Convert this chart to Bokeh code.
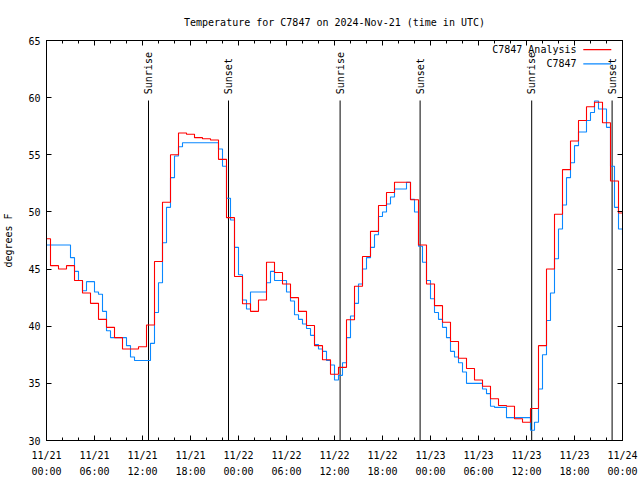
import math
import pandas as pd
from bokeh.plotting import figure
from bokeh.models import (Range1d, FixedTicker, DatetimeTickFormatter, LinearAxis,
                          DatetimeAxis, Label, BoxAnnotation, ColumnDataSource)
from bokeh.core.properties import value
from bokeh.embed import file_html
from bokeh.resources import INLINE

START = pd.Timestamp("2024-11-21 00:00")

# Hourly analysis values (valid at each hour from 11/21 00:00)
analysis_hours = list(range(0, 73))
analysis_temps = [
    47.65, 45.3, 45.0, 45.3, 44.0, 42.9, 42.0, 40.6, 39.9, 39.0,
    38.0, 38.0, 38.2, 40.1, 45.66, 50.85, 55.0, 56.9, 56.8, 56.5,
    56.4, 56.3, 54.6, 49.5, 44.35, 41.96, 41.3, 42.3, 45.6, 44.7,
    43.7, 42.5, 41.3, 40.06, 38.3, 37.06, 35.8, 36.4, 40.56, 43.5,
    46.1, 48.3, 50.56, 51.7, 52.6, 52.6, 51.06, 47.1, 43.7, 41.8,
    40.35, 38.66, 37.2, 36.3, 35.3, 34.75, 33.65, 33.06, 33.0, 31.9,
    31.6, 32.8, 38.3, 45.0, 49.8, 53.7, 56.2, 58.0, 59.2, 59.6,
    57.8, 52.7, 49.9,
]

# Station observations every half hour
obs_hours = [i * 0.5 for i in range(145)]
obs_temps = [
    47.1, 47.1, 47.1, 47.1, 47.1, 47.1, 46.0, 44.8, 44.0, 43.1,   # 0 - 4.5
    43.9, 43.9, 43.0, 42.8, 41.3, 39.6, 39.0, 39.0, 39.0, 39.0,   # 5 - 9.5
    38.3, 37.3, 37.0, 37.0, 37.0, 37.0, 38.5, 41.2, 43.8, 47.3,   # 10 - 14.5
    50.4, 53.0, 54.9, 55.7, 56.05, 56.05, 56.05, 56.05, 56.05, 56.05,  # 15 - 19.5
    56.05, 56.05, 56.05, 55.5, 54.0, 51.2, 49.3, 46.9, 44.5, 42.3,     # 20 - 24.5
    41.5, 43.0, 43.0, 43.0, 43.0, 43.8, 44.8, 44.0, 44.0, 44.0,   # 25 - 29.5
    43.0, 42.2, 41.0, 40.6, 40.2, 39.8, 39.2, 38.4, 38.0, 37.8,   # 30 - 34.5
    37.0, 36.6, 35.3, 35.7, 36.8, 39.0, 40.9, 42.0, 43.7, 45.0,   # 35 - 39.5
    46.0, 46.9, 48.0, 49.6, 50.0, 50.7, 51.3, 52.0, 52.0, 52.0,   # 40 - 44.5
    52.6, 51.1, 50.0, 47.0, 45.6, 44.0, 42.4, 41.2, 40.6, 39.9,   # 45 - 49.5
    39.0, 37.8, 37.3, 36.8, 36.0, 35.0, 35.0, 35.0, 35.0, 34.5,   # 50 - 54.5
    34.1, 33.0, 32.9, 32.9, 32.9, 32.0, 32.0, 32.0, 32.0, 32.0,   # 55 - 59.5
    32.0, 30.9, 31.6, 34.5, 37.5, 40.5, 42.9, 45.9, 48.5, 50.6,   # 60 - 64.5
    53.0, 54.3, 55.8, 57.0, 57.0, 58.0, 58.7, 59.7, 59.0, 59.0,   # 65 - 69.5
    57.4, 54.0, 50.4, 48.5, 48.0,                                 # 70 - 72
]

sun_event_hours = [12.75, 22.75, 36.7, 46.7, 60.65, 70.7]
sun_event_names = ["Sunrise", "Sunset", "Sunrise", "Sunset", "Sunrise", "Sunset"]

y_tick_values = [30, 35, 40, 45, 50, 55, 60, 65]
x_major_hours = list(range(0, 73, 6))
x_minor_hours = list(range(0, 73, 2))

FONT = "DejaVu Sans Mono"


def to_dt(hours):
    return [START + pd.Timedelta(hours=h) for h in hours]


def to_ms(hours):
    return [(START + pd.Timedelta(hours=h)).timestamp() * 1000.0 for h in hours]


p = figure(width=640, height=480, x_axis_type="datetime",
           x_range=Range1d(to_dt([0])[0], to_dt([72])[0]),
           y_range=Range1d(30, 65),
           output_backend="svg", toolbar_location=None,
           min_border_left=46, min_border_right=18,
           min_border_top=40, min_border_bottom=40)

p.title.text = "Temperature for C7847 on 2024-Nov-21 (time in UTC)"
p.title.align = "center"
p.title.text_font = FONT
p.title.text_font_size = "10px"
p.title.text_font_style = "normal"
p.title.text_color = "black"
p.title.standoff = 25

p.grid.visible = False
p.outline_line_color = "black"
p.outline_line_width = 1
p.background_fill_color = "white"
p.border_fill_color = "white"

x_ticker = FixedTicker(ticks=to_ms(x_major_hours), minor_ticks=to_ms(x_minor_hours))
fmt_str = "%m/%d\n%H:%M"
x_fmt = DatetimeTickFormatter(microseconds=fmt_str, milliseconds=fmt_str, seconds=fmt_str,
                              minsec=fmt_str, minutes=fmt_str, hourmin=fmt_str, hours=fmt_str,
                              days=fmt_str, months=fmt_str, years=fmt_str,
                              strip_leading_zeros=False)
y_ticker = FixedTicker(ticks=y_tick_values, minor_ticks=[])


def style_axis(ax, show_labels=True):
    ax.axis_line_color = "black"
    ax.major_tick_line_color = "black"
    ax.minor_tick_line_color = "black"
    ax.major_tick_in = 5
    ax.major_tick_out = 0
    ax.minor_tick_in = 3
    ax.minor_tick_out = 0
    ax.major_label_text_font = FONT
    if show_labels:
        ax.major_label_text_font_size = "10px"
        ax.major_label_text_color = "black"
    else:
        # mirrored tick marks only: labels are not painted
        ax.major_label_text_font_size = "1px"
        ax.major_label_text_color = None
        ax.major_label_standoff = 0


xa = p.xaxis[0]
xa.ticker = x_ticker
xa.formatter = x_fmt
style_axis(xa)
xa.major_label_standoff = 9
xa.major_label_text_line_height = 1.5

ya = p.yaxis[0]
ya.ticker = y_ticker
style_axis(ya)
ya.major_label_standoff = 6
ya.axis_label = "degrees F"
ya.axis_label_text_font = FONT
ya.axis_label_text_font_size = "10px"
ya.axis_label_text_font_style = "normal"
ya.axis_label_text_color = "black"
ya.axis_label_standoff = 11

top_axis = DatetimeAxis(ticker=x_ticker, formatter=x_fmt)
style_axis(top_axis, show_labels=False)
p.add_layout(top_axis, "above")

right_axis = LinearAxis(ticker=y_ticker)
style_axis(right_axis, show_labels=False)
p.add_layout(right_axis, "right")

# Sunrise / sunset markers
sun_src = ColumnDataSource(dict(x=to_dt(sun_event_hours),
                                y0=[30] * len(sun_event_hours),
                                y1=[59.75] * len(sun_event_hours),
                                ylab=[60.3] * len(sun_event_hours),
                                name=sun_event_names))
p.segment(x0="x", y0="y0", x1="x", y1="y1", source=sun_src, line_color="black", line_width=1)
p.text(x="x", y="ylab", text="name", source=sun_src, angle=math.pi / 2,
       text_align="left", text_baseline="middle",
       text_font=value(FONT), text_font_size="10px", text_color="black")

# Data series
RED = "#ff0000"
BLUE = "#0a88ff"
p.step(to_dt(obs_hours), obs_temps, mode="after", line_color=BLUE, line_width=1.1)
p.step(to_dt(analysis_hours), analysis_temps, mode="center", line_color=RED, line_width=1.1)

# Legend (gnuplot style: text left, sample right)
legend_rows = [("C7847 Analysis", RED, 64.2), ("C7847", BLUE, 62.95)]
for txt, col, yy in legend_rows:
    p.add_layout(Label(x=to_dt([66.25])[0], y=yy, text=txt, text_align="right",
                       text_baseline="middle", text_font=FONT, text_font_size="10px",
                       text_color="black"))
    p.add_layout(BoxAnnotation(left=to_ms([67.1])[0], right=to_ms([70.6])[0],
                               bottom=yy - 0.05, top=yy + 0.05,
                               fill_color=col, fill_alpha=1.0, line_color=None))

open("out.html", "w").write(file_html(p, INLINE))
